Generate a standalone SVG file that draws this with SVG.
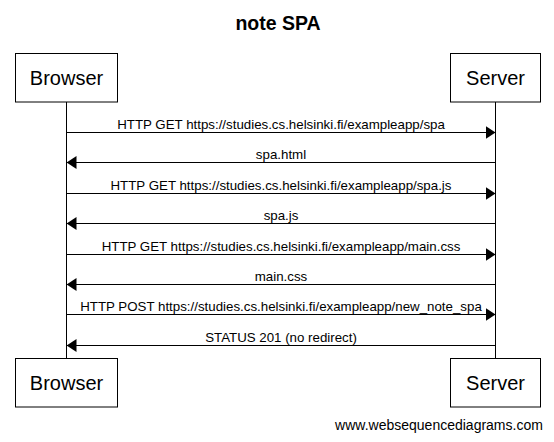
<svg xmlns="http://www.w3.org/2000/svg" width="554" height="442" viewBox="0 0 554 442">
<style>
.box{fill:#fff;stroke:#000;stroke-width:1}
.life{stroke:#000;stroke-width:1}
.msg{stroke:#000;stroke-width:1;fill:none;marker-end:url(#ah)}
.lbl{font-family:"Liberation Sans",Arial,sans-serif;font-size:13.3px;fill:#000;text-anchor:middle}
.pt{font-family:"Liberation Sans",Arial,sans-serif;font-size:20px;fill:#000;text-anchor:middle}
.title{font-family:"Liberation Sans",Arial,sans-serif;font-size:19.5px;font-weight:bold;fill:#000;text-anchor:middle}
.foot{font-family:"Liberation Sans",Arial,sans-serif;font-size:14px;fill:#000;text-anchor:middle}
</style>
<defs>
<marker id="ah" viewBox="0 0 10 13" refX="10" refY="6.5" markerWidth="10" markerHeight="13" markerUnits="userSpaceOnUse" orient="auto">
<path d="M0,0 L10,6.5 L0,13 z" fill="#000"/>
</marker>
</defs>
<rect width="554" height="442" fill="#fff"/>
<text class="title" x="278" y="30">note SPA</text>
<g id="lifelines">
<line class="life" x1="66.5" y1="102" x2="66.5" y2="358.5"/>
<line class="life" x1="495.5" y1="102" x2="495.5" y2="358.5"/>
</g>
<g id="browser">
<rect class="box" x="15.5" y="53.5" width="102" height="48.5"/>
<text class="pt" x="66.5" y="85">Browser</text>
<rect class="box" x="15.5" y="358.5" width="102" height="48.5"/>
<text class="pt" x="66.5" y="390">Browser</text>
</g>
<g id="server">
<rect class="box" x="450.5" y="53.5" width="90" height="48.5"/>
<text class="pt" x="495.5" y="85">Server</text>
<rect class="box" x="450.5" y="358.5" width="90" height="48.5"/>
<text class="pt" x="495.5" y="390">Server</text>
</g>
<g id="connectors">
<line class="msg" x1="66.5" y1="132.5" x2="495.5" y2="132.5"/>
<text class="lbl" x="281" y="128.5">HTTP GET https://studies.cs.helsinki.fi/exampleapp/spa</text>
<line class="msg" x1="495.5" y1="162.5" x2="66.5" y2="162.5"/>
<text class="lbl" x="281" y="158.5">spa.html</text>
<line class="msg" x1="66.5" y1="193.5" x2="495.5" y2="193.5"/>
<text class="lbl" x="281" y="189.5">HTTP GET https://studies.cs.helsinki.fi/exampleapp/spa.js</text>
<line class="msg" x1="495.5" y1="223.5" x2="66.5" y2="223.5"/>
<text class="lbl" x="281" y="219.5">spa.js</text>
<line class="msg" x1="66.5" y1="254.5" x2="495.5" y2="254.5"/>
<text class="lbl" x="281" y="250.5">HTTP GET https://studies.cs.helsinki.fi/exampleapp/main.css</text>
<line class="msg" x1="495.5" y1="284.5" x2="66.5" y2="284.5"/>
<text class="lbl" x="281" y="280.5">main.css</text>
<line class="msg" x1="66.5" y1="314.5" x2="495.5" y2="314.5"/>
<text class="lbl" x="281" y="310.5">HTTP POST https://studies.cs.helsinki.fi/exampleapp/new_note_spa</text>
<line class="msg" x1="495.5" y1="345.5" x2="66.5" y2="345.5"/>
<text class="lbl" x="281" y="341.5">STATUS 201 (no redirect)</text>
</g>
<text class="foot" x="439" y="429.5">www.websequencediagrams.com</text>
</svg>
